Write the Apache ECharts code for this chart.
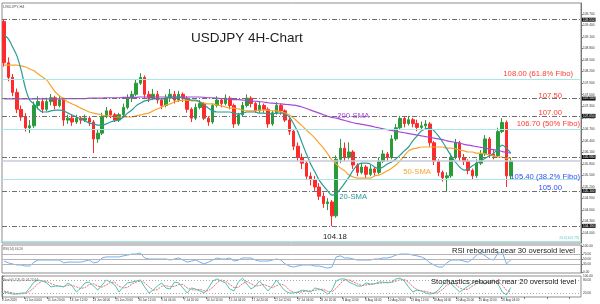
<!DOCTYPE html>
<html><head><meta charset="utf-8">
<script src="https://cdn.jsdelivr.net/npm/echarts@6/dist/echarts.min.js"></script>
<style>html,body{margin:0;padding:0;background:#fff}#c{width:600px;height:304px}#err{position:absolute;left:0;top:0;font:9px monospace;color:#c00;white-space:pre-wrap;width:600px}</style>
</head><body><div id="c"></div><div id="err"></div>
<script>
window.onerror = function (m, s, l, c, e) { document.getElementById('err').textContent = m + '\n' + (e && e.stack ? e.stack.slice(0, 900) : ''); };
const TRADING_DAYS = ['8 Jun','9 Jun','10 Jun','11 Jun','12 Jun','15 Jun','16 Jun','17 Jun','18 Jun','19 Jun','22 Jun','23 Jun','24 Jun','25 Jun','26 Jun','29 Jun','30 Jun','1 Jul','2 Jul','3 Jul','6 Jul','7 Jul','8 Jul','9 Jul','10 Jul','13 Jul','14 Jul','15 Jul','16 Jul','17 Jul','20 Jul','21 Jul','22 Jul','23 Jul','24 Jul','27 Jul','28 Jul','29 Jul','30 Jul','31 Jul','3 Aug','4 Aug','5 Aug','6 Aug','7 Aug','10 Aug','11 Aug','12 Aug','13 Aug','14 Aug','17 Aug','18 Aug','19 Aug','20 Aug','21 Aug','24 Aug','25 Aug','26 Aug','27 Aug','28 Aug','31 Aug'];

const OPEN = [109.5,108.43,108.05,107.66,107.22,107.02,106.74,106.79,107.32,107.42,107.22,107.42,107.52,107.32,107.47,106.94,106.99,106.89,106.99,106.94,106.99,106.89,106.45,106.6,107.03,107.18,107.08,106.94,107.08,107.27,107.51,107.61,107.9,108.05,107.61,107.51,107.61,107.46,107.32,107.51,107.61,107.46,107.61,107.51,107.22,106.99,107.27,107.37,106.99,106.89,107.32,107.46,107.37,107.51,107.32,106.84,107.08,107.32,107.51,107.37,107.18,107.32,107.22,106.84,107.13,107.32,107.18,106.94,106.65,106.26,105.97,105.82,105.48,105.39,105.2,104.96,104.77,104.81,104.45,105.92,106.21,105.97,106.11,105.77,105.58,105.72,105.53,105.67,105.58,105.87,106.06,105.97,106.45,106.74,106.98,106.85,106.95,106.85,106.75,106.79,106.84,106.35,105.87,105.58,105.44,105.49,105.97,106.35,105.97,105.87,105.63,105.49,105.82,106.06,106.45,106.06,106.01,106.64,106.88,105.49];
const CLOSE = [108.43,108.05,107.66,107.22,107.02,106.74,106.79,107.32,107.42,107.22,107.42,107.52,107.32,107.47,106.94,106.99,106.89,106.99,106.94,106.99,106.89,106.45,106.6,107.03,107.18,107.08,106.94,107.08,107.27,107.51,107.61,107.9,108.05,107.61,107.51,107.61,107.46,107.32,107.51,107.61,107.46,107.61,107.51,107.22,106.99,107.27,107.37,106.99,106.89,107.32,107.46,107.37,107.51,107.32,106.84,107.08,107.32,107.51,107.37,107.18,107.32,107.22,106.84,107.13,107.32,107.18,106.94,106.65,106.26,105.97,105.82,105.48,105.39,105.2,104.96,104.77,104.81,104.45,105.92,106.21,105.97,106.11,105.77,105.58,105.72,105.53,105.67,105.58,105.87,106.06,105.97,106.45,106.74,106.98,106.85,106.95,106.85,106.75,106.79,106.84,106.35,105.87,105.58,105.44,105.49,105.97,106.35,105.97,105.87,105.63,105.49,105.82,106.06,106.45,106.06,106.01,106.64,106.88,105.49,105.87];
const LOW = [108.33,107.95,107.56,107.12,106.92,106.64,106.6,106.74,107.22,107.12,107.17,107.32,107.22,107.27,106.79,106.84,106.79,106.84,106.84,106.89,106.79,106.08,106.35,106.55,106.99,106.99,106.89,106.89,107.03,107.22,107.41,107.56,107.85,107.51,107.41,107.46,107.37,107.22,107.27,107.41,107.37,107.41,107.41,107.13,106.89,106.94,107.22,106.94,106.79,106.84,107.27,107.27,107.32,107.22,106.74,106.79,107.03,107.27,107.27,107.13,107.13,107.13,106.74,106.79,107.08,107.08,106.89,106.55,106.16,105.87,105.67,105.38,105.24,105.1,104.86,104.66,104.6,104.18,104.4,105.82,105.87,105.92,105.67,105.48,105.53,105.43,105.48,105.48,105.53,105.82,105.87,105.92,106.4,106.69,106.75,106.8,106.75,106.65,106.69,106.69,106.25,105.77,105.48,105.34,105.1,105.44,105.92,105.87,105.77,105.53,105.39,105.44,105.77,106.01,105.97,105.92,105.97,106.6,105.2,105.39];
const HIGH = [109.55,108.57,108.14,107.76,107.32,107.12,106.94,107.42,107.56,107.52,107.52,107.62,107.57,107.57,107.52,107.08,107.08,107.08,107.04,107.08,107.04,106.94,106.7,107.13,107.28,107.23,107.13,107.13,107.37,107.61,107.7,108.0,108.16,108.1,107.7,107.75,107.7,107.51,107.61,107.75,107.7,107.7,107.66,107.56,107.27,107.37,107.46,107.41,107.04,107.37,107.56,107.51,107.61,107.56,107.37,107.13,107.41,107.61,107.56,107.41,107.41,107.37,107.27,107.18,107.41,107.37,107.22,106.99,106.7,106.36,106.07,105.87,105.58,105.49,105.3,105.06,104.91,104.86,106.02,106.45,106.36,106.36,106.16,105.82,105.82,105.77,105.77,105.72,105.97,106.16,106.11,106.55,106.84,107.05,107.02,107.05,107.0,106.95,106.9,106.94,106.89,106.4,105.92,105.63,105.58,106.07,106.45,106.4,106.06,105.92,105.68,105.92,106.16,106.55,106.5,106.16,106.74,106.99,106.93,105.97];

const SMA20 = [109.15,109.05,108.84,108.61,108.24,107.77,107.46,107.36,107.23,107.15,107.15,107.18,107.2,107.2,107.18,107.12,107.07,107.02,106.97,106.92,106.86,106.84,106.81,106.81,106.84,106.89,106.92,106.94,107.02,107.12,107.2,107.31,107.38,107.44,107.46,107.49,107.49,107.49,107.51,107.54,107.54,107.54,107.51,107.49,107.46,107.46,107.41,107.33,107.25,107.18,107.15,107.15,107.15,107.15,107.12,107.1,107.12,107.15,107.15,107.15,107.12,107.12,107.1,107.1,107.12,107.12,107.1,107.02,106.84,106.63,106.34,106.06,105.8,105.59,105.38,105.23,105.1,104.99,105.02,105.15,105.3,105.46,105.64,105.77,105.82,105.82,105.8,105.72,105.67,105.72,105.8,105.85,105.93,106.03,106.14,106.24,106.4,106.53,106.66,106.71,106.73,106.66,106.53,106.37,106.19,106.01,105.85,105.72,105.64,105.67,105.75,105.82,105.88,105.95,106.01,106.08,106.19,106.29,106.21,106.08];
const SMA50 = [108.37,108.37,108.37,108.37,108.35,108.32,108.27,108.22,108.14,108.06,107.98,107.83,107.67,107.57,107.49,107.41,107.36,107.31,107.25,107.2,107.15,107.12,107.1,107.07,107.05,107.05,107.02,107.02,107.02,107.02,107.02,107.05,107.07,107.1,107.12,107.18,107.23,107.28,107.33,107.36,107.41,107.44,107.46,107.46,107.44,107.44,107.41,107.38,107.36,107.36,107.33,107.31,107.28,107.25,107.25,107.23,107.2,107.18,107.18,107.18,107.2,107.2,107.2,107.18,107.18,107.15,107.12,107.07,106.99,106.89,106.79,106.68,106.58,106.47,106.34,106.21,106.06,105.9,105.8,105.69,105.62,105.51,105.46,105.43,105.43,105.43,105.43,105.49,105.51,105.56,105.62,105.69,105.77,105.88,106.01,106.14,106.19,106.21,106.24,106.24,106.24,106.24,106.24,106.24,106.21,106.21,106.19,106.16,106.14,106.11,106.11,106.08,106.08,106.06,106.03,106.01,105.98,105.98,105.95,105.95];
const SMA200 = [107.49,107.49,107.49,107.49,107.49,107.49,107.49,107.49,107.49,107.49,107.49,107.49,107.49,107.49,107.49,107.5,107.5,107.5,107.5,107.5,107.51,107.51,107.51,107.51,107.52,107.52,107.52,107.52,107.53,107.53,107.53,107.53,107.54,107.54,107.54,107.54,107.54,107.54,107.54,107.54,107.54,107.54,107.54,107.54,107.54,107.54,107.54,107.53,107.52,107.52,107.51,107.5,107.49,107.48,107.47,107.47,107.46,107.45,107.44,107.43,107.42,107.41,107.39,107.38,107.37,107.36,107.35,107.34,107.33,107.31,107.28,107.24,107.2,107.16,107.12,107.08,107.04,107.01,106.99,106.96,106.93,106.9,106.87,106.85,106.83,106.81,106.79,106.76,106.74,106.71,106.69,106.67,106.65,106.63,106.61,106.59,106.57,106.55,106.53,106.51,106.49,106.47,106.45,106.43,106.4,106.38,106.36,106.34,106.31,106.29,106.27,106.25,106.23,106.21,106.19,106.17,106.15,106.12,106.1,106.08];

const RSI = [42,35,31,27,27,23,23,38,46,46,46,46,46,46,35,38,38,38,38,42,46,35,38,54,58,58,58,58,62,65,69,69,73,54,50,50,50,50,50,46,50,54,46,38,42,46,38,31,38,46,54,50,50,54,42,46,54,54,54,46,42,42,42,46,50,46,31,23,19,23,27,27,27,23,23,19,15,19,58,62,54,54,50,46,46,46,46,50,50,54,54,58,65,69,69,69,65,62,58,50,35,27,19,19,35,46,46,46,42,38,50,65,73,62,50,46,73,77,31,46.26];
const STOCH_K = [24,19,14,14,19,19,43,71,81,76,67,48,52,52,48,67,52,24,43,67,71,52,33,57,81,71,57,24,48,67,71,76,81,48,19,33,52,67,43,38,71,67,43,19,43,38,29,19,43,76,86,76,67,38,29,71,90,62,38,52,76,52,29,52,81,52,29,19,19,24,33,29,24,43,38,29,14,33,76,86,86,71,62,52,52,67,62,62,71,71,67,71,86,90,76,48,24,33,29,19,14,19,33,57,81,62,43,24,38,52,67,76,67,62,76,81,62,24,10,45.04];
const STOCH_D = [28,24,19,16,15,17,27,44,65,76,75,64,56,51,50,56,56,48,40,45,60,63,52,47,57,70,70,51,43,46,62,71,76,68,49,33,35,51,54,49,51,59,60,43,35,33,37,29,30,46,68,81,76,60,45,46,63,74,63,51,55,60,52,44,54,62,54,33,22,21,25,29,29,32,35,37,27,25,41,65,83,81,73,62,55,57,60,64,65,68,70,70,75,82,84,71,49,35,29,27,21,17,22,36,57,67,62,43,35,38,52,65,72,68,68,73,73,56,32,25.64];

const PRICE_TICKS = [104.0,104.3,104.6,104.9,105.2,105.5,105.8,106.1,106.4,106.7,107.0,107.3,107.6,107.9,108.2,108.5,108.8,109.1,109.4,109.7];
const RSI_TICKS = [0,30,50,70,100];
const STOCH_TICKS = [20,80,100];
const DATE_LABELS = ['8 Jun 2020','11 Jun 04:00','15 Jun 20:00','18 Jun 12:00','23 Jun 04:00','25 Jun 20:00','30 Jun 12:00','3 Jul 04:00','7 Jul 20:00','10 Jul 12:00','15 Jul 04:00','17 Jul 20:00','22 Jul 12:00','27 Jul 04:00','29 Jul 20:00','3 Aug 12:00','6 Aug 04:00','10 Aug 20:00','13 Aug 12:00','18 Aug 04:00','20 Aug 20:00','25 Aug 12:00','28 Aug 04:00'];

const FIBO_LEVELS = [108.00, 106.70, 105.40, 103.79];
const FIBO_TEXT = ['108.00 (61.8% Fibo)', '106.70 (50% Fibo)', '105.40 (38.2% Fibo)', '23.6(103.79)'];
const SR_LEVELS = [109.55, 107.50, 107.05, 105.98, 105.10, 104.19];
const SR_TEXT = ['', '107.50', '107.00', '', '105.00', ''];
const BID = 105.87;

const BARS_PER_CANDLE = 3;
const EMPTY_SLOTS = 16;

const allSlots = [];
TRADING_DAYS.forEach(d => { allSlots.push(d + ' 00:00'); allSlots.push(d + ' 12:00'); });
const CATS = allSlots.slice(1, 1 + OPEN.length);
for (let k = 0; k < EMPTY_SLOTS; k++) CATS.push('~' + k);
const TOTAL_BARS = CATS.length * BARS_PER_CANDLE;

const FONT = 'Liberation Sans, Arial, sans-serif';
const RED = '#ff3a2e', BLUE = '#2f4ff0';
const DASH = '#6e6e6e';

const levelColor = v => v >= 106.7 ? RED : BLUE;
const markData = [];
FIBO_LEVELS.forEach((v, k) => {
  const small = k === 3;
  markData.push({
    yAxis: v,
    lineStyle: {color: '#a6e8e8', type: 'solid', width: 1},
    label: {show: true, position: 'insideEndTop', formatter: FIBO_TEXT[k],
      color: small ? '#6cc' : levelColor(v), fontSize: small ? 3.5 : 7.7, fontFamily: FONT,
      distance: small ? [2, 1] : (k === 0 ? [8, 1] : (k === 1 ? [1, 1] : [1, -2]))}
  });
});
SR_LEVELS.forEach((v, k) => {
  if (SR_TEXT[k]) {
    markData.push({
      yAxis: v,
      lineStyle: {color: DASH, type: [5, 2, 1, 2], width: 1},
      label: {show: true, position: 'insideEndTop', formatter: SR_TEXT[k],
        color: levelColor(v), fontSize: 7.7, fontFamily: FONT, distance: [19, -1]}
    });
  } else {
    markData.push({yAxis: v, lineStyle: {color: DASH, type: [5, 2, 1, 2], width: 1}, label: {show: false}});
  }
  markData.push({
    yAxis: v,
    lineStyle: {color: 'rgba(0,0,0,0)', width: 1},
    label: {show: true, position: 'end', formatter: v.toFixed(3), color: '#fff',
      backgroundColor: '#111', fontSize: 3.2, fontFamily: FONT, padding: [0.5, 1], distance: 1}
  });
});
markData.push({yAxis: BID, lineStyle: {color: '#c6cbd9', type: 'solid', width: 1.5}, label: {show: false}});

const lowVal = Math.min(...LOW);
const lowIdx = LOW.indexOf(lowVal);

const gridBase = {left: 2, right: 19, show: true, borderColor: '#8d8d8d', borderWidth: 1, backgroundColor: '#fff', containLabel: false, outerBoundsMode: 'none'};
const tinyMark = (idx, val, text, color) => ({silent: true, symbol: 'rect', symbolSize: 1, itemStyle: {color: 'rgba(0,0,0,0)'},
  data: [{coord: [idx, val], label: {show: true, position: 'inside', formatter: text, fontSize: 7.7, color: color, fontFamily: FONT}}]});
const ttl = (text, left, top, size, color) => ({text, left, top, padding: 0, itemGap: 0,
  textStyle: {fontSize: size, color, fontWeight: 'normal', fontFamily: FONT}});

const option = {
  animation: false,
  backgroundColor: '#fff',
  textStyle: {fontFamily: FONT},
  title: [
    ttl('USDJPY,H4', 3, 5, 4, '#555'),
    ttl('USDJPY 4H-Chart', 191, 31, 13.5, '#1e1e1e'),
    ttl('RSI(14) 46.26', 3, 248, 3.2, '#555'),
    ttl('Stoch(5,3,3) 45.04 25.64', 3, 278.5, 3.2, '#555'),
    ttl('RSI rebounds near 30 oversold level', 452, 247, 7.6, '#222'),
    ttl('Stochastics rebound near 20 oversold level', 431, 277.5, 7.6, '#222')
  ],
  grid: [
    Object.assign({}, gridBase, {top: 3, height: 240}),
    Object.assign({}, gridBase, {top: 245, height: 28}),
    Object.assign({}, gridBase, {top: 276, height: 21})
  ],
  xAxis: [
    {type: 'category', gridIndex: 0, data: CATS, show: false, boundaryGap: true},
    {type: 'category', gridIndex: 1, data: CATS, show: false, boundaryGap: true},
    {type: 'category', gridIndex: 2, data: CATS, show: false, boundaryGap: true},
    {type: 'value', gridIndex: 2, min: 0, max: TOTAL_BARS, interval: 16, position: 'bottom',
      axisLine: {show: false}, splitLine: {show: false},
      axisTick: {show: true, length: 2, lineStyle: {color: '#777'}},
      axisLabel: {fontSize: 3, color: '#333', align: 'left', margin: 2, fontFamily: FONT,
        showMaxLabel: false,
        formatter: v => DATE_LABELS[Math.round(v / 16)] || ''}}
  ],
  yAxis: [
    {type: 'value', gridIndex: 0, position: 'right', min: 103.744, max: 109.984,
      splitLine: {show: false}, axisLine: {show: true, lineStyle: {color: '#777'}},
      axisTick: {show: true, length: 2, customValues: PRICE_TICKS, lineStyle: {color: '#777'}},
      axisLabel: {customValues: PRICE_TICKS, fontSize: 3.2, color: '#333', margin: 2, fontFamily: FONT,
        formatter: v => Number(v).toFixed(3)}},
    {type: 'value', gridIndex: 1, position: 'right', min: -3.85, max: 103.85,
      splitLine: {show: false}, axisLine: {show: true, lineStyle: {color: '#777'}},
      axisTick: {show: true, length: 2, customValues: RSI_TICKS},
      axisLabel: {customValues: RSI_TICKS, fontSize: 3.2, color: '#333', margin: 2, fontFamily: FONT,
        formatter: v => Number(v).toFixed(2)}},
    {type: 'value', gridIndex: 2, position: 'right', min: 0, max: 100,
      splitLine: {show: false}, axisLine: {show: true, lineStyle: {color: '#777'}},
      axisTick: {show: true, length: 2, customValues: STOCH_TICKS},
      axisLabel: {customValues: STOCH_TICKS, fontSize: 3.2, color: '#333', margin: 2, fontFamily: FONT,
        formatter: v => Number(v).toFixed(2)}}
  ],
  series: [
    {
      type: 'candlestick', xAxisIndex: 0, yAxisIndex: 0, barWidth: 3,
      data: OPEN.map((o, i) => [o, CLOSE[i], LOW[i], HIGH[i]]),
      itemStyle: {color: '#2a9a3a', color0: '#ff2a2a', borderColor: '#2a9a3a', borderColor0: '#ff2a2a', borderWidth: 1},
      markLine: {silent: true, symbol: ['none', 'none'], animation: false, data: markData},
      markPoint: {silent: true, symbol: 'rect', symbolSize: 1, itemStyle: {color: 'rgba(0,0,0,0)'},
        data: [{coord: [lowIdx, lowVal], label: {show: true, position: 'inside', offset: [3, 11],
          formatter: lowVal.toFixed(2), fontSize: 7.8, color: '#222', fontFamily: FONT}}]},
      z: 3
    },
    {type: 'line', xAxisIndex: 0, yAxisIndex: 0, data: SMA200, showSymbol: false, smooth: 0.3,
      lineStyle: {color: '#a64ad8', width: 1.2}, z: 4, markPoint: tinyMark(82, 107.05, '200-SMA', '#a64ad8')},
    {type: 'line', xAxisIndex: 0, yAxisIndex: 0, data: SMA50, showSymbol: false, smooth: 0.3,
      lineStyle: {color: '#f7a52e', width: 1.2}, z: 4, markPoint: tinyMark(97, 105.59, '50-SMA', '#f7a52e')},
    {type: 'line', xAxisIndex: 0, yAxisIndex: 0, data: SMA20, showSymbol: false, smooth: 0.3,
      lineStyle: {color: '#2a9a9a', width: 1.2}, z: 4, markPoint: tinyMark(82, 104.94, '20-SMA', '#2a9a9a')},
    {type: 'line', xAxisIndex: 1, yAxisIndex: 1, data: RSI, showSymbol: false,
      lineStyle: {color: '#74aff0', width: 1},
      markLine: {silent: true, symbol: ['none', 'none'], label: {show: false},
        lineStyle: {color: '#b5b5b5', type: 'solid', width: 1},
        data: [{yAxis: 70}, {yAxis: 50}, {yAxis: 30}]}},
    {type: 'line', xAxisIndex: 2, yAxisIndex: 2, data: STOCH_D, showSymbol: false,
      lineStyle: {color: '#f06a6a', width: 1, type: [2, 1]},
      markLine: {silent: true, symbol: ['none', 'none'], label: {show: false},
        lineStyle: {color: '#aaa', type: [1, 2], width: 1},
        data: [{yAxis: 80}, {yAxis: 20}]}},
    {type: 'line', xAxisIndex: 2, yAxisIndex: 2, data: STOCH_K, showSymbol: false,
      lineStyle: {color: '#4cc4b4', width: 1}}
  ]
};
try {
  const chart = echarts.init(document.getElementById('c'), null, {renderer: 'canvas'});
  chart.setOption(option);
} catch (e) {
  document.getElementById('err').textContent = e.message + '\n' + (e.stack || '').slice(0, 900);
}
</script></body></html>
